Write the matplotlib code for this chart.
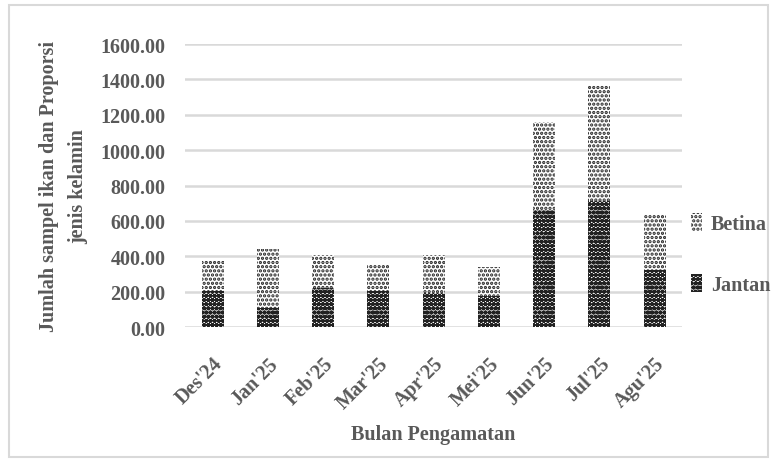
import matplotlib.pyplot as plt
from matplotlib.patches import Rectangle

bulan = ["Des'24", "Jan'25", "Feb'25", "Mar'25", "Apr'25", "Mei'25", "Jun'25", "Jul'25", "Agu'25"]
jantan = [205, 105, 220, 205, 190, 175, 660, 715, 320]
betina = [170, 335, 190, 145, 220, 165, 500, 655, 315]
yticks = [0, 200, 400, 600, 800, 1000, 1200, 1400, 1600]

GRAY = '#595959'
FS = 14.5
plt.rcParams['font.family'] = 'Liberation Serif'
plt.rcParams['font.weight'] = 'bold'
plt.rcParams['hatch.linewidth'] = 1.6


def stacked_chart():
    fig = plt.figure(figsize=(7.77, 4.64), dpi=100)
    fig.patches.append(Rectangle((0.012, 0.012), 0.976, 0.976, transform=fig.transFigure,
                                 fill=False, edgecolor='#D9D9D9', linewidth=1.5))
    ax = fig.add_axes([0.238, 0.293, 0.64, 0.61])

    x = range(len(bulan))
    ax.bar(x, jantan, width=0.4, color='white', edgecolor='#222222', hatch='oooo',
           linewidth=0, label='Jantan', zorder=3)
    ax.bar(x, betina, width=0.4, bottom=jantan, color='white', edgecolor='#222222',
           hatch='....', linewidth=0, label='Betina', zorder=3)

    ax.set_xlim(-0.5, len(bulan) - 0.5)
    ax.set_ylim(0, 1600)
    ax.set_yticks(yticks)
    ax.set_yticklabels([f'{v:.2f}' for v in yticks], fontsize=FS, color=GRAY, fontweight='bold')
    ax.set_xticks(list(x))
    ax.set_xticklabels(bulan, rotation=45, ha='right', rotation_mode='anchor',
                       fontsize=FS, color=GRAY, fontweight='bold')
    ax.tick_params(axis='y', length=0, pad=14)
    ax.tick_params(axis='x', length=0, pad=19)
    ax.grid(axis='y', color='#D9D9D9', linewidth=1.8, zorder=0)
    for s in ax.spines.values():
        s.set_visible(False)

    ax.set_ylabel('Jumlah sampel ikan dan Proporsi\njenis kelamin', fontsize=FS,
                  color=GRAY, fontweight='bold', labelpad=9, linespacing=1.6)
    ax.set_xlabel('Bulan Pengamatan', fontsize=FS, color=GRAY, fontweight='bold', labelpad=8)

    h, l = ax.get_legend_handles_labels()
    fig.legend(h[::-1], l[::-1], loc='center left', bbox_to_anchor=(0.866, 0.45),
               frameon=False, labelcolor=GRAY, prop={'weight': 'bold', 'size': FS},
               handlelength=0.55, handleheight=1.0, handletextpad=0.45, labelspacing=2.0)

    fig.savefig('out.png', dpi=100)


if __name__ == "__main__":
    stacked_chart()
